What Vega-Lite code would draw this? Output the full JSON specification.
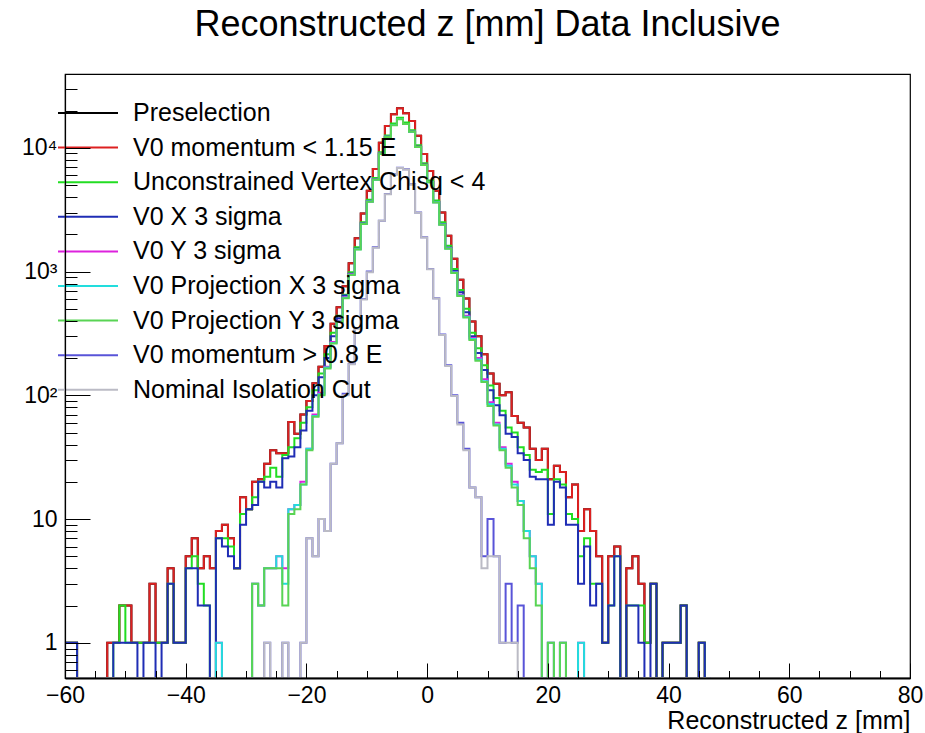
{
  "$schema": "https://vega.github.io/schema/vega-lite/v6.json",
  "width": 845,
  "height": 604,
  "autosize": {"type": "none"},
  "padding": {"left": 65, "top": 74, "right": 15, "bottom": 55},
  "background": "white",
  "title": {"text": "Reconstructed z [mm] Data Inclusive", "fontSize": 36, "font": "Liberation Sans", "fontWeight": "normal", "color": "#000000", "anchor": "middle", "offset": 2, "baseline": "alphabetic"},
  "config": {"view": {"stroke": "#000000", "strokeWidth": 1.2}},
  "data": {"values": [
    {"z":-60,"P":1,"R":1,"G":1,"B":1,"M":0,"C":0,"G2":0,"S":0,"N":0},
    {"z":-59,"P":1,"R":1,"G":1,"B":1,"M":0,"C":0,"G2":0,"S":0,"N":0},
    {"z":-58,"P":0,"R":0,"G":0,"B":0,"M":0,"C":0,"G2":0,"S":0,"N":0},
    {"z":-57,"P":0,"R":0,"G":0,"B":0,"M":0,"C":0,"G2":0,"S":0,"N":0},
    {"z":-56,"P":0,"R":0,"G":0,"B":0,"M":0,"C":0,"G2":0,"S":0,"N":0},
    {"z":-55,"P":0,"R":0,"G":0,"B":0,"M":0,"C":0,"G2":0,"S":0,"N":0},
    {"z":-54,"P":0,"R":0,"G":0,"B":0,"M":0,"C":0,"G2":0,"S":0,"N":0},
    {"z":-53,"P":1,"R":1,"G":0,"B":0,"M":0,"C":0,"G2":0,"S":0,"N":0},
    {"z":-52,"P":1,"R":1,"G":1,"B":1,"M":0,"C":0,"G2":0,"S":0,"N":0},
    {"z":-51,"P":2,"R":2,"G":2,"B":1,"M":0,"C":0,"G2":0,"S":0,"N":0},
    {"z":-50,"P":2,"R":2,"G":1,"B":1,"M":0,"C":0,"G2":0,"S":0,"N":0},
    {"z":-49,"P":1,"R":1,"G":1,"B":1,"M":0,"C":0,"G2":0,"S":0,"N":0},
    {"z":-48,"P":1,"R":1,"G":1,"B":0,"M":0,"C":0,"G2":0,"S":0,"N":0},
    {"z":-47,"P":1,"R":1,"G":1,"B":1,"M":0,"C":0,"G2":0,"S":0,"N":0},
    {"z":-46,"P":3,"R":3,"G":1,"B":1,"M":0,"C":0,"G2":0,"S":0,"N":0},
    {"z":-45,"P":1,"R":1,"G":1,"B":0,"M":0,"C":0,"G2":0,"S":0,"N":0},
    {"z":-44,"P":1,"R":1,"G":1,"B":1,"M":0,"C":0,"G2":0,"S":0,"N":0},
    {"z":-43,"P":4,"R":4,"G":3,"B":3,"M":0,"C":0,"G2":0,"S":0,"N":0},
    {"z":-42,"P":1,"R":1,"G":1,"B":1,"M":0,"C":0,"G2":0,"S":0,"N":0},
    {"z":-41,"P":1,"R":1,"G":1,"B":1,"M":0,"C":0,"G2":0,"S":0,"N":0},
    {"z":-40,"P":5,"R":5,"G":4,"B":4,"M":0,"C":0,"G2":0,"S":0,"N":0},
    {"z":-39,"P":7,"R":7,"G":5,"B":4,"M":0,"C":0,"G2":0,"S":0,"N":0},
    {"z":-38,"P":4,"R":4,"G":3,"B":2,"M":0,"C":0,"G2":0,"S":0,"N":0},
    {"z":-37,"P":5,"R":5,"G":2,"B":2,"M":0,"C":0,"G2":0,"S":0,"N":0},
    {"z":-36,"P":4,"R":4,"G":0,"B":0,"M":0,"C":0,"G2":0,"S":0,"N":0},
    {"z":-35,"P":8,"R":8,"G":7,"B":7,"M":1,"C":1,"G2":0,"S":0,"N":0},
    {"z":-34,"P":9,"R":9,"G":7,"B":6,"M":0,"C":0,"G2":0,"S":0,"N":0},
    {"z":-33,"P":7,"R":7,"G":6,"B":5,"M":0,"C":0,"G2":0,"S":0,"N":0},
    {"z":-32,"P":4,"R":4,"G":4,"B":4,"M":0,"C":0,"G2":0,"S":0,"N":0},
    {"z":-31,"P":15,"R":15,"G":11,"B":9,"M":0,"C":0,"G2":0,"S":0,"N":0},
    {"z":-30,"P":12,"R":12,"G":12,"B":12,"M":0,"C":0,"G2":0,"S":0,"N":0},
    {"z":-29,"P":20,"R":20,"G":15,"B":13,"M":3,"C":3,"G2":3,"S":0,"N":0},
    {"z":-28,"P":21,"R":21,"G":20,"B":20,"M":2,"C":2,"G2":2,"S":0,"N":0},
    {"z":-27,"P":28,"R":28,"G":22,"B":18,"M":4,"C":4,"G2":4,"S":1,"N":1},
    {"z":-26,"P":36,"R":36,"G":26,"B":20,"M":4,"C":4,"G2":4,"S":0,"N":0},
    {"z":-25,"P":34,"R":34,"G":22,"B":18,"M":5,"C":5,"G2":4,"S":0,"N":0},
    {"z":-24,"P":34,"R":34,"G":33,"B":31,"M":4,"C":3,"G2":2,"S":1,"N":1},
    {"z":-23,"P":61,"R":61,"G":38,"B":32,"M":12,"C":12,"G2":11,"S":0,"N":0},
    {"z":-22,"P":49,"R":49,"G":45,"B":38,"M":13,"C":13,"G2":12,"S":0,"N":0},
    {"z":-21,"P":70,"R":70,"G":60,"B":52,"M":20,"C":19,"G2":19,"S":1,"N":1},
    {"z":-20,"P":90,"R":90,"G":80,"B":75,"M":37,"C":37,"G2":36,"S":7,"N":7},
    {"z":-19,"P":125,"R":125,"G":110,"B":100,"M":70,"C":68,"G2":67,"S":5,"N":5},
    {"z":-18,"P":170,"R":170,"G":150,"B":140,"M":105,"C":102,"G2":100,"S":10,"N":10},
    {"z":-17,"P":250,"R":250,"G":215,"B":200,"M":170,"C":168,"G2":165,"S":8,"N":8},
    {"z":-16,"P":379,"R":379,"G":320,"B":300,"M":270,"C":265,"G2":262,"S":28,"N":28},
    {"z":-15,"P":515,"R":515,"G":440,"B":420,"M":400,"C":395,"G2":392,"S":41,"N":41},
    {"z":-14,"P":760,"R":760,"G":650,"B":640,"M":620,"C":615,"G2":610,"S":103,"N":100},
    {"z":-13,"P":1170,"R":1170,"G":990,"B":960,"M":950,"C":945,"G2":940,"S":180,"N":178},
    {"z":-12,"P":1860,"R":1860,"G":1570,"B":1530,"M":1520,"C":1515,"G2":1510,"S":350,"N":345},
    {"z":-11,"P":2950,"R":2950,"G":2500,"B":2450,"M":2440,"C":2432,"G2":2428,"S":600,"N":595},
    {"z":-10,"P":4500,"R":4500,"G":3800,"B":3700,"M":3690,"C":3681,"G2":3675,"S":1000,"N":990},
    {"z":-9,"P":6730,"R":6730,"G":5700,"B":5550,"M":5538,"C":5530,"G2":5522,"S":1570,"N":1560},
    {"z":-8,"P":11000,"R":11000,"G":9200,"B":9000,"M":8985,"C":8975,"G2":8968,"S":2580,"N":2570},
    {"z":-7,"P":15000,"R":15000,"G":12600,"B":12300,"M":12285,"C":12272,"G2":12260,"S":4240,"N":4225},
    {"z":-6,"P":18700,"R":18700,"G":15700,"B":15300,"M":15282,"C":15270,"G2":15255,"S":6120,"N":6100},
    {"z":-5,"P":20900,"R":20900,"G":17500,"B":17100,"M":17080,"C":17066,"G2":17050,"S":6900,"N":6880},
    {"z":-4,"P":19000,"R":19000,"G":16000,"B":15600,"M":15582,"C":15570,"G2":15556,"S":6700,"N":6682},
    {"z":-3,"P":16500,"R":16500,"G":13900,"B":13500,"M":13484,"C":13472,"G2":13460,"S":5080,"N":5066},
    {"z":-2,"P":12500,"R":12500,"G":10500,"B":10200,"M":10188,"C":10177,"G2":10166,"S":3000,"N":2990},
    {"z":-1,"P":8900,"R":8900,"G":7500,"B":7300,"M":7288,"C":7279,"G2":7270,"S":1890,"N":1882},
    {"z":0,"P":6500,"R":6500,"G":5450,"B":5300,"M":5290,"C":5282,"G2":5275,"S":1050,"N":1044},
    {"z":1,"P":4500,"R":4500,"G":3750,"B":3650,"M":3638,"C":3630,"G2":3622,"S":610,"N":605},
    {"z":2,"P":3000,"R":3000,"G":2500,"B":2420,"M":2405,"C":2398,"G2":2390,"S":310,"N":308},
    {"z":3,"P":1950,"R":1950,"G":1620,"B":1560,"M":1545,"C":1537,"G2":1530,"S":175,"N":173},
    {"z":4,"P":1270,"R":1270,"G":1050,"B":1010,"M":990,"C":982,"G2":975,"S":100,"N":99},
    {"z":5,"P":860,"R":860,"G":710,"B":680,"M":650,"C":642,"G2":635,"S":60,"N":58},
    {"z":6,"P":605,"R":605,"G":500,"B":470,"M":440,"C":432,"G2":425,"S":37,"N":36},
    {"z":7,"P":395,"R":395,"G":320,"B":300,"M":290,"C":285,"G2":280,"S":18,"N":18},
    {"z":8,"P":300,"R":300,"G":240,"B":220,"M":200,"C":195,"G2":190,"S":15,"N":15},
    {"z":9,"P":215,"R":215,"G":175,"B":160,"M":135,"C":130,"G2":128,"S":5,"N":4},
    {"z":10,"P":150,"R":150,"G":120,"B":110,"M":88,"C":85,"G2":82,"S":10,"N":5},
    {"z":11,"P":124,"R":124,"G":95,"B":83,"M":60,"C":58,"G2":57,"S":5,"N":5},
    {"z":12,"P":100,"R":100,"G":75,"B":69,"M":38,"C":37,"G2":36,"S":1,"N":1},
    {"z":13,"P":106,"R":106,"G":55,"B":49,"M":28,"C":27,"G2":26,"S":3,"N":1},
    {"z":14,"P":68,"R":68,"G":50,"B":46,"M":20,"C":19,"G2":18,"S":1,"N":1},
    {"z":15,"P":60,"R":60,"G":38,"B":34,"M":14,"C":14,"G2":13,"S":2,"N":0},
    {"z":16,"P":55,"R":55,"G":33,"B":30,"M":8,"C":8,"G2":7,"S":0,"N":0},
    {"z":17,"P":37,"R":37,"G":25,"B":22,"M":5,"C":5,"G2":4,"S":0,"N":0},
    {"z":18,"P":30,"R":30,"G":24,"B":21,"M":3,"C":3,"G2":2,"S":0,"N":0},
    {"z":19,"P":37,"R":37,"G":25,"B":21,"M":0,"C":0,"G2":0,"S":0,"N":0},
    {"z":20,"P":21,"R":21,"G":11,"B":9,"M":1,"C":1,"G2":1,"S":0,"N":0},
    {"z":21,"P":27,"R":27,"G":21,"B":20,"M":0,"C":0,"G2":0,"S":0,"N":0},
    {"z":22,"P":24,"R":24,"G":19,"B":18,"M":1,"C":1,"G2":1,"S":0,"N":0},
    {"z":23,"P":15,"R":15,"G":11,"B":9,"M":0,"C":0,"G2":0,"S":0,"N":0},
    {"z":24,"P":19,"R":19,"G":10,"B":9,"M":0,"C":0,"G2":0,"S":0,"N":0},
    {"z":25,"P":8,"R":8,"G":5,"B":3,"M":1,"C":1,"G2":0,"S":0,"N":0},
    {"z":26,"P":12,"R":12,"G":7,"B":6,"M":0,"C":0,"G2":0,"S":0,"N":0},
    {"z":27,"P":8,"R":8,"G":3,"B":2,"M":0,"C":0,"G2":0,"S":0,"N":0},
    {"z":28,"P":5,"R":5,"G":3,"B":3,"M":0,"C":0,"G2":0,"S":0,"N":0},
    {"z":29,"P":1,"R":1,"G":1,"B":1,"M":0,"C":0,"G2":0,"S":0,"N":0},
    {"z":30,"P":5,"R":5,"G":2,"B":2,"M":0,"C":0,"G2":0,"S":0,"N":0},
    {"z":31,"P":6,"R":6,"G":5,"B":5,"M":0,"C":0,"G2":0,"S":0,"N":0},
    {"z":32,"P":0,"R":0,"G":0,"B":0,"M":0,"C":0,"G2":0,"S":0,"N":0},
    {"z":33,"P":4,"R":4,"G":2,"B":2,"M":0,"C":0,"G2":0,"S":0,"N":0},
    {"z":34,"P":5,"R":5,"G":2,"B":2,"M":0,"C":0,"G2":0,"S":0,"N":0},
    {"z":35,"P":3,"R":3,"G":2,"B":1,"M":0,"C":0,"G2":0,"S":0,"N":0},
    {"z":36,"P":1,"R":1,"G":1,"B":0,"M":0,"C":0,"G2":0,"S":0,"N":0},
    {"z":37,"P":3,"R":3,"G":3,"B":3,"M":0,"C":0,"G2":0,"S":0,"N":0},
    {"z":38,"P":0,"R":0,"G":0,"B":0,"M":0,"C":0,"G2":0,"S":0,"N":0},
    {"z":39,"P":1,"R":1,"G":1,"B":1,"M":0,"C":0,"G2":0,"S":0,"N":0},
    {"z":40,"P":1,"R":1,"G":1,"B":1,"M":0,"C":0,"G2":0,"S":0,"N":0},
    {"z":41,"P":1,"R":1,"G":1,"B":1,"M":0,"C":0,"G2":0,"S":0,"N":0},
    {"z":42,"P":2,"R":2,"G":2,"B":2,"M":0,"C":0,"G2":0,"S":0,"N":0},
    {"z":43,"P":0,"R":0,"G":0,"B":0,"M":0,"C":0,"G2":0,"S":0,"N":0},
    {"z":44,"P":0,"R":0,"G":0,"B":0,"M":0,"C":0,"G2":0,"S":0,"N":0},
    {"z":45,"P":1,"R":1,"G":1,"B":1,"M":0,"C":0,"G2":0,"S":0,"N":0},
    {"z":46,"P":0,"R":0,"G":0,"B":0,"M":0,"C":0,"G2":0,"S":0,"N":0},
    {"z":47,"P":0,"R":0,"G":0,"B":0,"M":0,"C":0,"G2":0,"S":0,"N":0}
  ]},
  "transform": [{"fold": ["P","R","G","B","M","C","G2","S","N"], "as": ["cut","n"]}],
  "mark": {"type": "line", "interpolate": "step-after", "strokeWidth": 2, "clip": true},
  "encoding": {
    "x": {"field": "z", "type": "quantitative",
      "scale": {"domain": [-60, 80], "nice": false, "zero": false},
      "axis": {"values": [-60,-55,-50,-45,-40,-35,-30,-25,-20,-15,-10,-5,0,5,10,15,20,25,30,35,40,45,50,55,60,65,70,75,80],
        "labelExpr": "datum.value % 20 === 0 ? datum.label : ''",
        "labelFont": "Liberation Sans", "labelFontSize": 23, "labelColor": "#000000", "labelPadding": 21,
        "labelFlush": false, "labelOverlap": false, "grid": false,
        "tickSize": {"condition": {"test": "datum.value % 20 === 0", "value": -15}, "value": -7.5},
        "tickColor": "#000000", "tickWidth": 1, "domainColor": "#000000", "domainWidth": 2,
        "title": "Reconstructed z [mm]", "titleFont": "Liberation Sans", "titleFontSize": 25, "titleFontWeight": "normal",
        "titleColor": "#000000", "titleAnchor": "end", "titleAlign": "right", "titlePadding": -6, "zindex": 1}},
    "y": {"field": "n", "type": "quantitative",
      "scale": {"type": "log", "domain": [0.52, 39500], "nice": false, "clamp": true},
      "axis": {"values": [0.6,0.7,0.8,0.9,1,2,3,4,5,6,7,8,9,10,20,30,40,50,60,70,80,90,100,200,300,400,500,600,700,800,900,1000,2000,3000,4000,5000,6000,7000,8000,9000,10000,20000,30000],
        "labelExpr": "datum.value === 1 ? '1' : datum.value === 10 ? '10' : datum.value === 100 ? '10²' : datum.value === 1000 ? '10³' : datum.value === 10000 ? '10⁴' : ''",
        "labelFont": "Liberation Sans", "labelFontSize": 23, "labelColor": "#000000", "labelPadding": 33,
        "labelFlush": false, "labelOverlap": false, "grid": false,
        "tickSize": {"condition": {"test": "datum.value === 1 || datum.value === 10 || datum.value === 100 || datum.value === 1000 || datum.value === 10000", "value": -25}, "value": -12},
        "tickColor": "#000000", "tickWidth": 1, "domainColor": "#000000", "domainWidth": 1.2,
        "title": null, "zindex": 1}},
    "color": {"field": "cut", "type": "nominal",
      "scale": {"domain": ["P","R","G","B","M","C","G2","S","N"],
        "range": ["#000000","#dd2020","#22dd22","#1f2db5","#dd22dd","#22dddd","#59d454","#5954d8","#bbbbc5"]},
      "legend": {"orient": "none", "legendX": 7, "legendY": 23, "title": null,
        "symbolType": "M-2,0H2", "symbolSize": 900, "symbolStrokeWidth": 2,
        "labelFont": "Liberation Sans", "labelFontSize": 25, "labelColor": "#000000", "labelOffset": 29, "labelLimit": 600,
        "rowPadding": 5.6,
        "labelExpr": "datum.value === 'P' ? 'Preselection' : datum.value === 'R' ? 'V0 momentum < 1.15 E' : datum.value === 'G' ? 'Unconstrained Vertex Chisq < 4' : datum.value === 'B' ? 'V0 X 3 sigma' : datum.value === 'M' ? 'V0 Y 3 sigma' : datum.value === 'C' ? 'V0 Projection X 3 sigma' : datum.value === 'G2' ? 'V0 Projection Y 3 sigma' : datum.value === 'S' ? 'V0 momentum > 0.8 E' : 'Nominal Isolation Cut'"}}
  }
}
